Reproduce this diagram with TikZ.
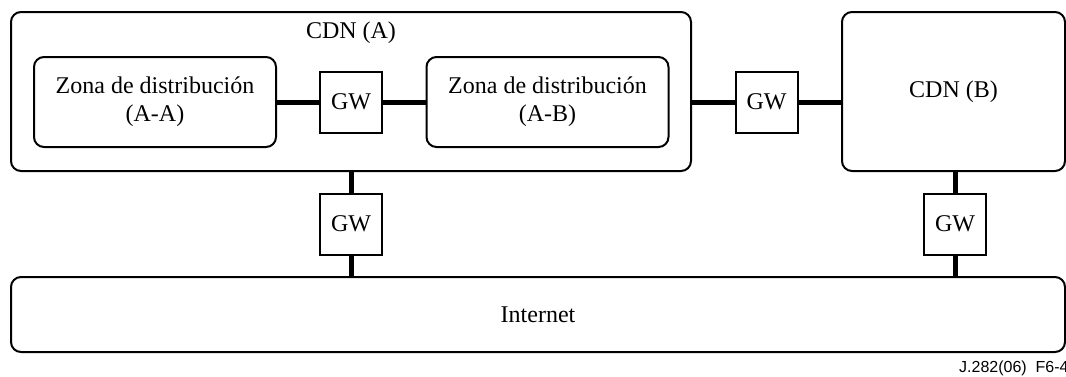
\documentclass[tikz,border=0pt]{standalone}
\usepackage{fontspec}
\setmainfont{Liberation Serif}
\newfontfamily\helv{Liberation Sans}
\begin{document}
\begin{tikzpicture}[x=0.5pt,y=-0.5pt,font=\fontsize{12}{14}\selectfont]
            \tikzstyle{cdn}=[draw,line width=1pt,rounded corners=5pt,inner sep=0pt,outer sep=0pt]
            \tikzstyle{zona}=[cdn,minimum width=121pt,minimum height=45pt,align=center]
            \tikzstyle{gw}=[draw,line width=1pt,minimum width=31pt,minimum height=30.5pt,inner sep=0pt,outer sep=0pt]
            \tikzstyle{enlace}=[line width=2.5pt]
            \useasboundingbox (0,0) rectangle (1066,376);
            \node[cdn,minimum width=340pt,minimum height=79.5pt] (A) at (351,91.5) {};
            \node (tA) at (351,33) {CDN (A)};
            \node[zona] (AA) at (155,102) {Zona de distribución\\(A-A)};
            \node[gw] (gw1) at (351,102) {GW};
            \node[zona] (AB) at (547.5,102) {Zona de distribución\\(A-B)};
            \node[gw] (gw2) at (766.5,102) {GW};
            \node[cdn,minimum width=111.5pt,minimum height=79.5pt] (B) at (953.5,91.5) {CDN (B)};
            \node[gw] (gw3) at (351,224) {GW};
            \node[gw] (gw4) at (955,224) {GW};
            \node[cdn,minimum width=527pt,minimum height=37.5pt] (net) at (538,314.5) {Internet};
            \node[anchor=base east,inner sep=0pt,font=\helv\fontsize{8}{9}\selectfont] (ref) at (1069,372) {J.282(06)\ \ F6-4};
            \draw[enlace] (AA) -- (gw1) -- (AB);
            \draw[enlace] (A.east |- gw2) -- (gw2) -- (B.west |- gw2);
            \draw[enlace] (A.south) -- (gw3);
            \draw[enlace] (gw3) -- (net.north -| gw3);
            \draw[enlace] (gw4 |- B.south) -- (gw4);
            \draw[enlace] (gw4) -- (net.north -| gw4);
\end{tikzpicture}
\end{document}
